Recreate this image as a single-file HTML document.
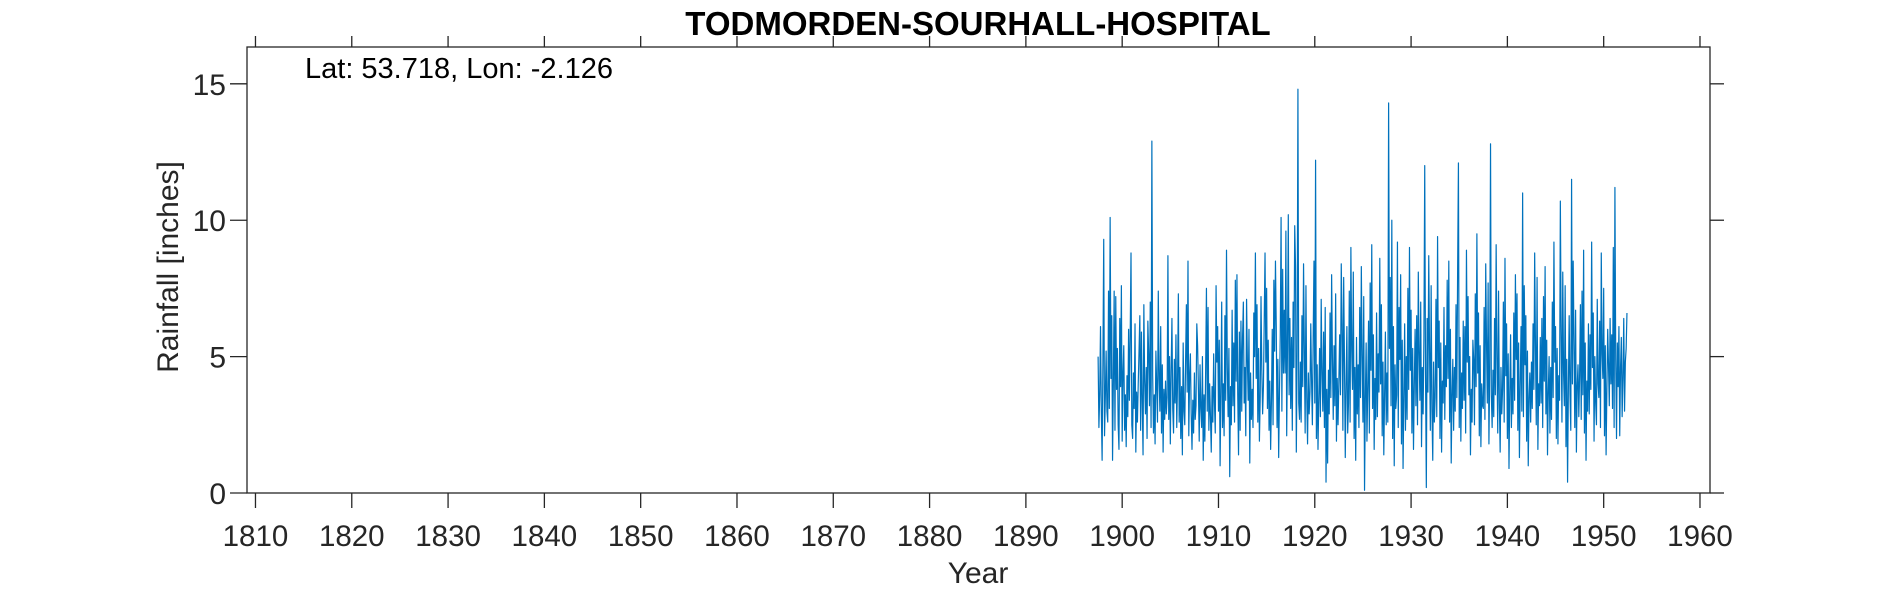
<!DOCTYPE html>
<html><head><meta charset="utf-8"><style>
html,body{margin:0;padding:0;background:#fff;}
svg{display:block;font-family:"Liberation Sans",Arial,sans-serif;}
</style></head><body>
<svg id="chart" width="1890" height="591" viewBox="0 0 1890 591" xmlns="http://www.w3.org/2000/svg">
<rect width="1890" height="591" fill="#fff"/>
<g id="axes"></g>
<polyline id="series" fill="none" stroke="#0072BD" stroke-width="1.2" stroke-linejoin="round"/>
<text x="978" y="35" font-size="33" font-weight="bold" text-anchor="middle" fill="#000">TODMORDEN-SOURHALL-HOSPITAL</text>
<text x="305" y="78" font-size="29" fill="#000">Lat: 53.718, Lon: -2.126</text>
<text x="978" y="583" font-size="30" text-anchor="middle" fill="#262626">Year</text>
<text x="178" y="267" font-size="30" text-anchor="middle" fill="#262626" transform="rotate(-90 178 267)">Rainfall [inches]</text>
</svg>
<script>
const startYear = 1897.5;
const xTicks = [1810,1820,1830,1840,1850,1860,1870,1880,1890,1900,1910,1920,1930,1940,1950,1960];
const yTicks = [0,5,10,15];
const rain = [
5.0,2.4,3.6,6.1,3.0,1.2,4.8,9.3,2.1,3.5,5.2,3.0,
2.6,7.4,3.1,10.1,4.2,6.5,1.2,4.0,7.4,2.3,7.2,3.8,
5.3,2.5,1.6,6.4,3.9,7.6,1.9,4.4,5.4,2.3,3.6,1.7,
4.3,2.8,6.0,3.4,5.8,8.8,2.5,2.0,4.4,3.1,6.2,1.5,
3.7,2.6,4.0,5.2,6.5,2.3,5.9,3.3,1.4,6.9,4.1,2.9,
4.6,2.0,6.3,5.1,3.2,7.0,2.4,12.9,4.3,2.2,3.6,1.8,
5.2,3.9,2.6,7.4,4.2,3.0,6.1,2.2,4.7,1.5,3.8,2.7,
4.1,2.9,3.5,8.7,2.7,5.0,1.8,4.5,6.4,3.1,2.2,4.9,
3.3,5.8,2.4,4.1,7.3,2.6,4.6,2.0,3.9,1.4,5.5,3.0,
2.5,4.8,6.9,3.7,8.5,2.1,4.3,5.1,2.9,1.6,3.4,2.2,
4.4,2.7,3.2,6.2,5.4,3.8,1.9,4.7,3.1,2.4,5.0,1.2,
3.6,1.9,4.5,7.5,3.0,6.8,2.3,4.0,2.8,1.5,3.9,2.6,
5.1,3.3,2.2,7.6,4.8,6.1,3.0,5.6,1.0,3.7,7.0,2.4,
4.0,2.1,6.5,3.4,8.9,4.6,2.8,5.3,0.6,3.9,2.5,6.7,
3.2,5.5,2.6,7.8,4.1,8.0,3.6,1.4,5.9,2.3,6.3,3.0,
5.7,7.0,3.3,4.6,2.1,7.1,4.9,3.4,6.0,1.1,4.4,2.7,
3.8,2.4,6.6,5.0,8.8,4.2,6.9,2.6,5.3,1.9,3.5,7.2,
4.5,2.9,3.9,6.3,8.8,4.8,7.5,3.1,5.6,2.3,4.1,1.6,
3.4,6.0,2.5,7.8,5.2,8.5,6.1,2.4,4.9,1.3,3.7,5.8,
10.1,3.0,8.2,4.4,6.7,4.4,9.6,2.1,5.4,10.2,3.6,6.4,
3.1,5.7,2.3,7.0,4.6,9.8,8.3,1.5,5.1,14.8,3.3,2.7,
4.8,2.6,6.5,3.9,8.4,5.3,2.2,7.6,3.5,1.8,4.4,2.9,
3.7,6.2,4.1,2.5,5.7,8.5,3.3,12.2,2.0,4.7,1.6,3.4,
5.3,2.8,7.1,4.4,3.0,5.9,2.4,6.8,0.4,3.8,1.1,4.5,
2.9,6.6,3.5,8.0,4.9,2.7,5.4,3.2,7.3,1.9,4.2,2.5,
4.1,5.8,3.6,8.4,6.2,2.3,7.9,4.8,1.3,3.9,6.1,2.2,
3.3,7.4,2.6,9.0,5.2,3.8,8.1,2.0,4.6,1.2,5.7,2.9,
4.7,2.4,6.8,3.5,8.3,5.0,2.6,7.2,0.1,3.4,5.5,1.9,
3.9,6.3,2.2,7.7,4.5,9.1,3.1,5.8,1.6,4.2,2.7,6.6,
2.8,5.1,3.7,8.6,4.0,6.9,2.1,4.8,1.4,3.6,5.9,2.5,
4.4,2.6,14.3,5.3,7.9,3.2,10.0,2.0,6.1,1.0,4.7,3.1,
3.6,9.2,2.4,6.8,4.9,8.0,1.8,5.6,0.9,3.5,6.2,2.3,
5.0,2.7,7.5,3.8,9.0,4.5,6.7,2.2,5.3,1.6,3.9,6.0,
3.2,6.5,2.5,8.1,5.1,3.4,7.0,1.7,4.6,2.9,5.7,12.0,
4.3,0.2,6.4,3.7,8.7,5.2,2.3,7.6,3.0,1.2,4.8,2.6,
3.5,7.1,2.8,9.4,4.6,6.3,2.0,5.5,1.5,4.1,3.3,6.8,
2.7,5.4,3.9,7.8,4.2,8.5,2.6,6.0,1.1,3.6,4.9,2.3,
4.6,3.0,6.9,3.5,8.2,12.1,2.4,5.7,1.9,4.4,3.1,6.3,
3.4,6.1,2.2,8.9,4.8,7.2,3.6,5.0,1.4,3.8,2.6,5.6,
4.9,2.5,7.3,3.9,9.5,4.4,6.6,2.1,5.4,1.7,4.0,3.2,
3.1,6.8,2.7,8.4,5.5,3.3,7.7,1.8,4.5,12.8,3.6,2.4,
4.5,2.8,6.4,3.6,9.1,5.0,2.2,7.4,3.3,1.5,4.6,2.9,
3.8,7.0,2.6,8.6,4.3,6.2,2.0,5.1,0.9,3.7,5.8,2.4,
4.2,2.9,6.6,3.4,8.0,4.9,7.3,2.3,5.5,1.3,3.9,6.1,
3.0,11.0,2.8,7.6,4.7,6.5,1.9,5.2,1.0,3.5,4.4,2.6,
4.8,3.1,6.2,3.8,8.8,5.4,2.5,7.9,1.6,4.0,3.2,5.7,
3.3,6.4,2.4,7.2,4.1,8.3,2.9,5.6,1.4,3.7,5.0,2.2,
4.6,2.7,7.0,3.5,9.2,4.8,6.1,2.0,5.3,1.8,4.3,3.4,
10.7,5.9,2.6,8.1,4.4,3.2,7.6,1.7,4.9,0.4,3.8,6.5,
3.6,2.3,11.5,4.0,8.5,5.6,2.4,6.7,1.5,3.9,4.7,2.8,
4.3,6.9,2.7,7.4,3.6,8.9,2.2,5.5,1.2,4.1,3.0,6.2,
2.9,5.8,3.8,9.2,4.6,6.6,1.9,5.0,3.3,2.5,7.1,4.0,
3.5,6.3,2.4,8.8,5.1,4.2,7.5,2.1,5.4,1.4,3.8,6.0,
4.7,3.2,6.4,4.0,5.8,3.1,9.0,2.4,11.2,4.9,2.0,5.5,
3.9,6.1,2.1,4.6,5.7,2.8,4.2,6.4,3.0,4.8,5.3,6.6
];
const L=247,R=1710,T=47,B=493,X0=1809.12,X1=1961.04,Y0=0,Y1=16.35;
function xs(v){return L+(v-X0)/(X1-X0)*(R-L);}
function ys(v){return B-(v-Y0)/(Y1-Y0)*(B-T);}
const NS="http://www.w3.org/2000/svg";
const axes=document.getElementById('axes');
function mk(tag,attrs){const e=document.createElementNS(NS,tag);for(const k in attrs)e.setAttribute(k,attrs[k]);axes.appendChild(e);return e;}
const box=mk('rect',{x:L,y:T,width:R-L,height:B-T,fill:'none',stroke:'#262626','stroke-width':1.3});


xTicks.forEach(t=>{
  const x=xs(t);
  const tb=mk('line',{x1:x,x2:x,y1:B,y2:B+15,stroke:'#262626','stroke-width':1.3});
  
  
  const tt=mk('line',{x1:x,x2:x,y1:T,y2:T-11,stroke:'#262626','stroke-width':1.3});
  
  
  const lb=mk('text',{x:x,y:546,'font-size':29.5,'text-anchor':'middle',fill:'#262626'});
  lb.textContent=t;
  
  
});
yTicks.forEach(t=>{
  const y=ys(t);
  const tl=mk('line',{x1:L-17,x2:L,y1:y,y2:y,stroke:'#262626','stroke-width':1.3});
  
  
  const tr=mk('line',{x1:R,x2:R+14,y1:y,y2:y,stroke:'#262626','stroke-width':1.3});
  
  
  const lb=mk('text',{x:226,y:y+11,'font-size':30,'text-anchor':'end',fill:'#262626'});
  lb.textContent=t;
  
  
});
const pts=rain.map((v,i)=>xs(startYear+i/12).toFixed(2)+','+ys(v).toFixed(2)).join(' ');
document.getElementById('series').setAttribute('points',pts);
</script>
</body></html>
